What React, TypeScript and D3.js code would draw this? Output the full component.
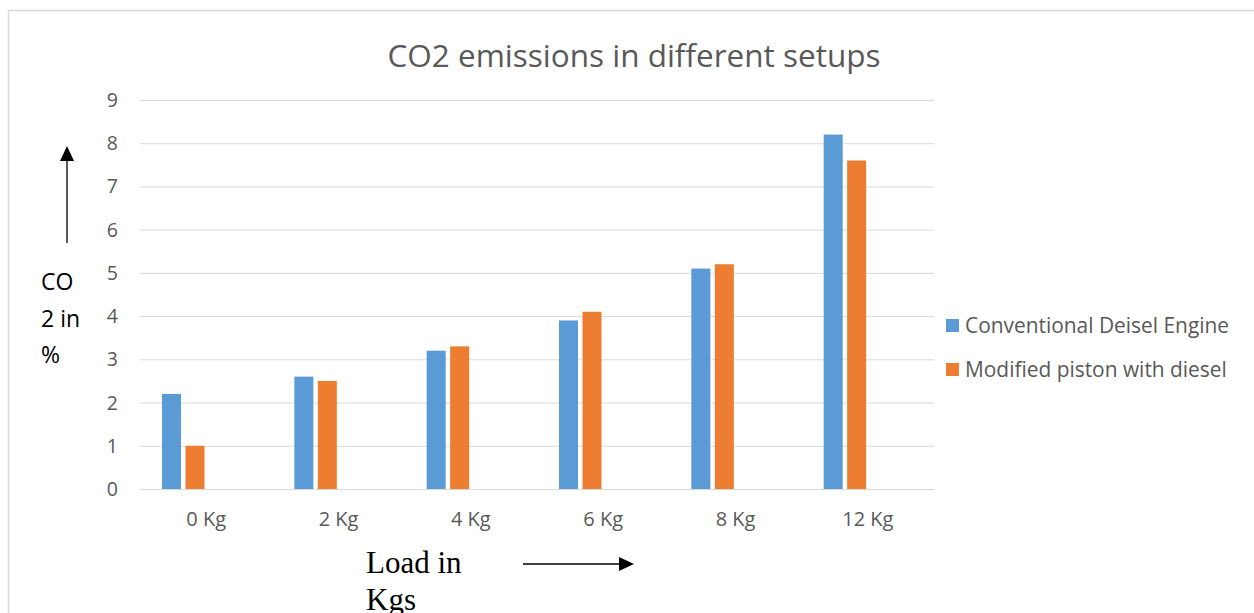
import React from "react";
import * as d3 from "d3";

const categories = ["0 Kg", "2 Kg", "4 Kg", "6 Kg", "8 Kg", "12 Kg"];
const seriesNames = ["Conventional Deisel Engine", "Modified piston with diesel"];
const conventional = [2.2, 2.6, 3.2, 3.9, 5.1, 8.2];
const modified = [1.0, 2.5, 3.3, 4.1, 5.2, 7.6];
const yTicks = [0, 1, 2, 3, 4, 5, 6, 7, 8, 9];
const colors = ["#5B9BD5", "#ED7D31"];
const title = "CO2 emissions in different setups";

export default function App() {
  const W = 1254, H = 613;
  const left = 140, right = 934, top = 100, bottom = 489;
  const x0 = d3.scaleBand<string>().domain(categories).range([left, right]);
  const x1 = d3.scaleBand<string>().domain(seriesNames).range([22, 64.5]).paddingInner(0.19);
  const y = d3.scaleLinear().domain([0, 9]).range([bottom, top]);
  const values = [conventional, modified];
  const font = "'Open Sans', 'Noto Sans', sans-serif";

  return (
    <svg width={W} height={H} style={{ position: "absolute", left: 0, top: 0, background: "#fff" }}>
      <rect x={0} y={0} width={W} height={H} fill="#fff" />
      <rect x={8.5} y={10.5} width={1400} height={800} fill="none" stroke="#d9d9d9" strokeWidth={1.5} />
      <text x={634} y={67} textAnchor="middle" fontFamily={font} fontSize={31.5} fill="#595959">{title}</text>
      {yTicks.map((t) => (
        <g key={t}>
          <line x1={left} x2={right} y1={y(t) + 0.5} y2={y(t) + 0.5} stroke="#d9d9d9" strokeWidth={1} />
          <text x={118} y={y(t) + 7} textAnchor="end" fontFamily={font} fontSize={19.5} fill="#595959">{t}</text>
        </g>
      ))}
      {categories.map((c, i) => (
        <g key={c}>
          {seriesNames.map((s, j) => (
            <rect key={s} x={(x0(c) as number) + (x1(s) as number)} y={y(values[j][i])}
              width={x1.bandwidth()} height={bottom - y(values[j][i])} fill={colors[j]} />
          ))}
          <text x={(x0(c) as number) + x0.bandwidth() / 2} y={526} textAnchor="middle"
            fontFamily={font} fontSize={20} fill="#595959">{c}</text>
        </g>
      ))}
      {seriesNames.map((s, j) => (
        <g key={s}>
          <rect x={946} y={319 + j * 44} width={13} height={13} fill={colors[j]} />
          <text x={965} y={333 + j * 44} fontFamily={font} fontSize={20.9} fill="#595959">{s}</text>
        </g>
      ))}
      <text fontFamily={font} fontSize={23} fill="#000">
        <tspan x={41} y={290}>CO</tspan>
        <tspan x={41} y={327}>2 in</tspan>
        <tspan x={41} y={363}>%</tspan>
      </text>
      <line x1={67} y1={243} x2={67} y2={158} stroke="#000" strokeWidth={1.3} />
      <path d="M67,146 L60,161 L74,161 Z" fill="#000" />
      <line x1={523} y1={564} x2={620} y2={564} stroke="#000" strokeWidth={1.3} />
      <path d="M634,564 L619,557 L619,571 Z" fill="#000" />
      <text fontFamily="'Liberation Serif', 'Times New Roman', serif" fontSize={31} fill="#000">
        <tspan x={366} y={573}>Load in</tspan>
        <tspan x={366} y={610}>Kgs</tspan>
      </text>
    </svg>
  );
}
